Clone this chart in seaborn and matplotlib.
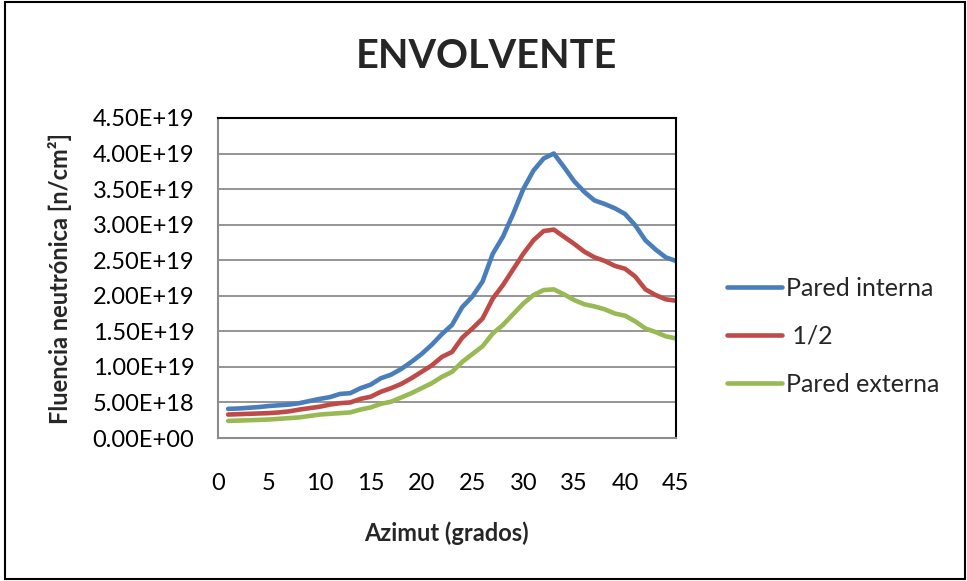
import pandas as pd
import matplotlib.pyplot as plt
import seaborn as sns
import numpy as np
from matplotlib.patches import Rectangle
from matplotlib.ticker import FuncFormatter

# datos (unidades de 1E18 n/cm2)
azimut = list(range(1, 46))
pared_interna = [4.1, 4.15, 4.25, 4.35, 4.5, 4.6, 4.7, 4.9, 5.2, 5.5,
                 5.75, 6.2, 6.3, 7.0, 7.5, 8.4, 8.9, 9.7, 10.7, 11.8,
                 13.1, 14.6, 15.9, 18.4, 19.9, 22.0, 25.9, 28.3, 31.5, 35.0,
                 37.6, 39.3, 40.0, 38.1, 36.1, 34.6, 33.4, 32.9, 32.3, 31.5,
                 29.9, 27.8, 26.5, 25.4, 24.9]
mitad = [3.3, 3.35, 3.4, 3.45, 3.5, 3.6, 3.75, 4.0, 4.2, 4.4,
         4.7, 4.9, 5.0, 5.5, 5.8, 6.5, 7.0, 7.6, 8.4, 9.3,
         10.2, 11.4, 12.1, 14.1, 15.4, 16.8, 19.6, 21.5, 23.7, 25.9,
         27.8, 29.1, 29.3, 28.3, 27.3, 26.2, 25.4, 24.9, 24.2, 23.8,
         22.7, 20.9, 20.1, 19.5, 19.3]
pared_externa = [2.4, 2.45, 2.5, 2.55, 2.6, 2.7, 2.8, 2.9, 3.1, 3.3,
                 3.4, 3.5, 3.6, 4.0, 4.3, 4.8, 5.1, 5.7, 6.3, 7.0,
                 7.7, 8.6, 9.3, 10.7, 11.8, 12.9, 14.7, 15.9, 17.4, 18.9,
                 20.1, 20.8, 20.9, 20.2, 19.4, 18.8, 18.5, 18.1, 17.5, 17.2,
                 16.4, 15.4, 14.9, 14.3, 14.0]
series = ['Pared interna', ' 1/2', 'Pared externa']
colores = ['#4A7EBB', '#BE4B48', '#98B954']

df = pd.DataFrame({
    'azimut': azimut * 3,
    'fluencia': np.array(pared_interna + mitad + pared_externa) * 1e18,
    'serie': [series[0]] * 45 + [series[1]] * 45 + [series[2]] * 45,
})

sns.set_style('white')
plt.rcParams['font.family'] = ['Lato', 'DejaVu Sans']

fig = plt.figure(figsize=(9.67, 5.81), dpi=100)
ax = fig.add_axes([0.2254, 0.2461, 0.4736, 0.5509])

sns.lineplot(data=df, x='azimut', y='fluencia', hue='serie', palette=colores,
             linewidth=3.3, ax=ax, legend=True,
             solid_capstyle='round', solid_joinstyle='round')

ax.set_xlim(0, 45)
ax.set_ylim(0, 4.5e19)
ax.set_xticks(range(0, 46, 5))
ax.set_yticks(np.arange(0, 4.51e19, 5e18))
ax.yaxis.set_major_formatter(FuncFormatter(lambda v, p: f'{v:.2E}'))
ax.yaxis.grid(True, color='#8c8c8c', linewidth=1.3)
ax.set_axisbelow(True)
ax.tick_params(axis='both', labelsize=17, colors='black', width=1.2,
               direction='out')
ax.tick_params(axis='both', color='#8c8c8c')
ax.tick_params(axis='x', length=6, pad=19)
ax.tick_params(axis='y', length=5, pad=12)
for s in ['left', 'bottom']:
    ax.spines[s].set_color('#8c8c8c')
    ax.spines[s].set_linewidth(1.5)
for s in ['top', 'right']:
    ax.spines[s].set_color('black')
    ax.spines[s].set_linewidth(1.5)

ax.set_xlabel('')
ax.set_ylabel('')
fig.text(0.062, 0.52, 'Fluencia neutrónica [n/cm²]', rotation=90,
         ha='center', va='center', fontsize=17, fontweight='bold')
fig.text(0.462, 0.082, 'Azimut (grados)', ha='center', va='center',
         fontsize=17, fontweight='bold')
fig.text(0.503, 0.902, 'ENVOLVENTE', ha='center', va='center',
         fontsize=28.5, fontweight='bold')

leg = ax.legend(loc='center left', bbox_to_anchor=(0.752, 1 - 336 / 581),
                bbox_transform=fig.transFigure, frameon=False, borderpad=0,
                borderaxespad=0, fontsize=18, handlelength=2.2,
                labelspacing=1.0, handletextpad=0.15)
for h in leg.get_lines():
    h.set_solid_capstyle('round')

fig.patches.append(Rectangle((0.005, 0.004), 0.993, 0.992,
                             transform=fig.transFigure, fill=False,
                             edgecolor='black', linewidth=1.5))

plt.savefig('out.png', dpi=100)
plt.close()
